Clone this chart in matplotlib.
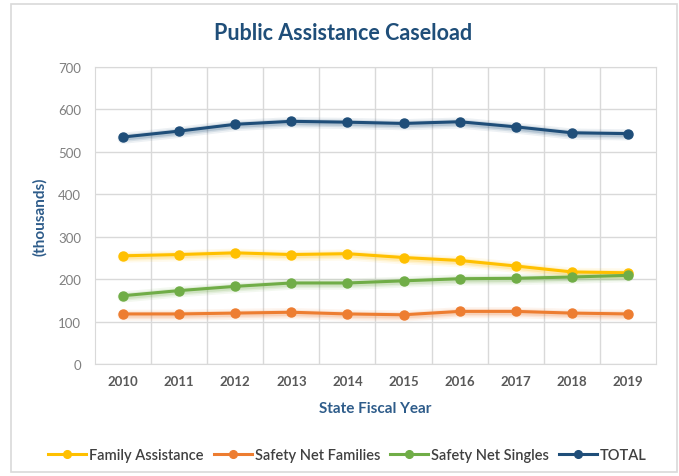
import matplotlib.pyplot as plt
from matplotlib.patches import Rectangle

years = ['2010', '2011', '2012', '2013', '2014', '2015', '2016', '2017', '2018', '2019']

family_assistance = [255, 258, 262, 258, 260, 251, 244, 231, 217, 215]
safety_net_families = [118, 118, 120, 122, 118, 116, 124, 124, 120, 118]
safety_net_singles = [161, 173, 183, 191, 191, 196, 201, 202, 205, 209]
total = [535, 549, 565, 572, 570, 567, 571, 559, 545, 543]

series = [
    ('Family Assistance', family_assistance, '#FFC000'),
    ('Safety Net Families', safety_net_families, '#ED7D31'),
    ('Safety Net Singles', safety_net_singles, '#70AD47'),
    ('TOTAL', total, '#1F4E79'),
]

plt.rcParams['font.family'] = ['Lato', 'DejaVu Sans']

fig = plt.figure(figsize=(6.79, 4.77), dpi=100)
ax = fig.add_axes([0.1399, 0.2348, 0.8262, 0.6226])

# light frame round the whole chart
fig.patches.append(Rectangle((11 / 679, 1 - 473 / 477), 666 / 679, 468 / 477,
                             transform=fig.transFigure, fill=False,
                             edgecolor='#D9D9D9', linewidth=1.2))

x = list(range(len(years)))
for name, values, color in series:
    # soft glow under each line
    y_shadow = [v - 3 for v in values]
    for lw, a in [(8, 0.08), (5.5, 0.12), (3.5, 0.18)]:
        ax.plot(x, y_shadow, color=color, linewidth=lw, alpha=a,
                solid_capstyle='round', zorder=2)
    ax.plot(x, values, color=color, linewidth=2.2, marker='o', markersize=6.5,
            label=name, zorder=3)

ax.set_xlim(-0.5, len(years) - 0.5)
ax.set_ylim(0, 700)
ax.set_yticks(range(0, 701, 100))
ax.set_xticks(x)
ax.set_xticklabels(years, fontweight='bold', color='#595959', fontsize=9.5)
ax.tick_params(axis='y', colors='#7F7F7F', labelsize=9.5, length=0, pad=10)
ax.tick_params(axis='x', length=0, pad=8)

# Excel style: vertical grid between categories
ax.set_xticks([i + 0.5 for i in x[:-1]], minor=True)
ax.tick_params(axis='x', which='minor', length=0)
ax.grid(axis='y', color='#D9D9D9', linewidth=1)
ax.grid(axis='x', which='minor', color='#D9D9D9', linewidth=1)
ax.set_axisbelow(True)
for s in ax.spines.values():
    s.set_color('#D9D9D9')

fig.text(343 / 679, 1 - 33 / 477, 'Public Assistance Caseload', fontsize=15.5,
         fontweight='bold', color='#1F4E79', ha='center', va='center')
ax.set_xlabel('State Fiscal Year', fontsize=11, fontweight='bold',
              color='#2E5C8A', labelpad=10)
ax.set_ylabel('(thousands)', fontsize=11, fontweight='bold',
              color='#2E5C8A', labelpad=8)

fig.legend(loc='center', bbox_to_anchor=(0.512, 1 - 456 / 477), ncol=4,
           frameon=False, handlelength=2.6, handletextpad=0.2,
           columnspacing=0.7, labelcolor='#404040', markerscale=0.85,
           prop={'weight': 'semibold', 'size': 10.5})

fig.savefig('out.png', dpi=100)
